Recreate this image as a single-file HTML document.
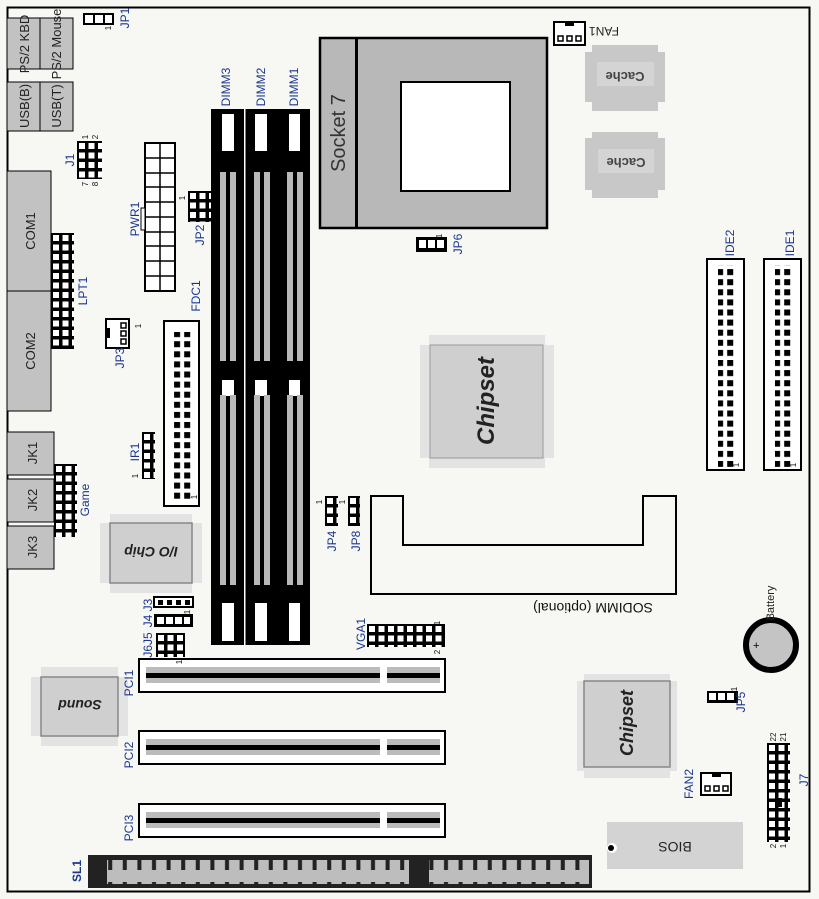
<!DOCTYPE html>
<html><head><meta charset="utf-8"><style>
html,body{margin:0;padding:0;background:#f7f8f4}
svg{display:block}
text{font-family:"Liberation Sans",sans-serif}
</style></head><body>
<svg width="819" height="899" viewBox="0 0 819 899" xmlns="http://www.w3.org/2000/svg">
<defs>
<pattern id="hdr9" width="9.5" height="9.5" patternUnits="userSpaceOnUse"><rect width="9.5" height="9.5" fill="#000"/><rect x="2" y="2" width="6" height="6" fill="#fff"/></pattern>
<pattern id="ide" width="10.1" height="10.1" patternUnits="userSpaceOnUse"><rect x="0" y="0" width="6" height="6" fill="#000"/></pattern>
<pattern id="sl" width="14.6" height="24" patternUnits="userSpaceOnUse"><rect width="14.6" height="24" fill="#bdbdbd"/><rect x="6" y="0" width="4" height="6" fill="#222"/><rect x="6" y="18" width="4" height="6" fill="#222"/></pattern>
</defs>
<rect x="0" y="0" width="819" height="899" fill="#f7f8f4"/>
<rect x="7.5" y="7.5" width="802" height="884" fill="none" stroke="#000" stroke-width="2"/>

<g fill="#c2c2c2" stroke="#000" stroke-width="1">
<rect x="7" y="18" width="33" height="51"/><rect x="40" y="18" width="33" height="51"/>
<rect x="7" y="82" width="33" height="49"/><rect x="40" y="82" width="33" height="49"/>
<rect x="7" y="171" width="44" height="120"/><rect x="7" y="291" width="44" height="120"/>
<rect x="7" y="432" width="47" height="43"/><rect x="7" y="479" width="47" height="43"/><rect x="7" y="526" width="47" height="43"/>
</g>
<g font-size="13" fill="#222" text-anchor="middle">
<text transform="translate(29,44) rotate(-90)">PS/2 KBD</text>
<text transform="translate(61,44) rotate(-90)">PS/2 Mouse</text>
<text transform="translate(29,106) rotate(-90)">USB(B)</text>
<text transform="translate(61,106) rotate(-90)">USB(T)</text>
<text transform="translate(35,231) rotate(-90)">COM1</text>
<text transform="translate(35,351) rotate(-90)">COM2</text>
<text transform="translate(37,453) rotate(-90)">JK1</text>
<text transform="translate(37,500) rotate(-90)">JK2</text>
<text transform="translate(37,547) rotate(-90)">JK3</text>
</g>

<g transform="translate(83,13)"><rect width="31" height="12" fill="#000"/><rect x="2" y="2" width="8" height="8" fill="#fff"/><rect x="12" y="2" width="8" height="8" fill="#fff"/><rect x="22" y="2" width="7" height="8" fill="#fff"/></g>
<g transform="translate(77,141)"><rect width="25" height="38" fill="url(#hdr9)"/></g>
<g transform="translate(51,233)"><rect width="23" height="116" fill="url(#hdr9)"/></g>
<g transform="translate(54,464)"><rect width="23" height="73" fill="url(#hdr9)"/></g>
<g transform="translate(188,191)"><rect width="23" height="31" fill="url(#hdr9)"/></g>
<g transform="translate(142,432)"><rect width="13" height="47" fill="url(#hdr9)"/></g>
<g transform="translate(367,624)"><rect width="78" height="23" fill="url(#hdr9)"/></g>
<g transform="translate(767,743)"><rect width="23" height="99" fill="url(#hdr9)"/><rect x="9" y="55" width="6" height="9" fill="#000"/></g>
<g transform="translate(325,496)"><rect width="13" height="30" fill="url(#hdr9)"/></g>
<g transform="translate(348,496)"><rect width="12" height="30" fill="url(#hdr9)"/></g>
<g transform="translate(416,237)"><rect width="31" height="15" fill="#000"/><rect x="3" y="3" width="7" height="8" fill="#fff"/><rect x="12" y="3" width="7" height="8" fill="#fff"/><rect x="21" y="3" width="7" height="8" fill="#fff"/></g>
<g transform="translate(707,691)"><rect width="31" height="12" fill="#000"/><rect x="2" y="2" width="7" height="7" fill="#fff"/><rect x="11" y="2" width="7" height="7" fill="#fff"/><rect x="20" y="2" width="7" height="7" fill="#fff"/></g>
<g transform="translate(154,597)"><rect width="39" height="10" fill="#fff" stroke="#000" stroke-width="2"/><rect x="4" y="3" width="5" height="5" fill="#000"/><rect x="13" y="3" width="5" height="5" fill="#000"/><rect x="22" y="3" width="5" height="5" fill="#000"/><rect x="31" y="3" width="5" height="5" fill="#000"/></g>
<g transform="translate(154,614)"><rect width="39" height="13" fill="#000"/><rect x="3" y="3" width="7" height="7" fill="#fff"/><rect x="12" y="3" width="7" height="7" fill="#fff"/><rect x="21" y="3" width="7" height="7" fill="#fff"/><rect x="30" y="3" width="6" height="7" fill="#fff"/></g>
<g transform="translate(156,633)"><rect width="29" height="24" fill="url(#hdr9)"/></g>

<g transform="translate(145,143)"><rect width="30" height="148" fill="#fff" stroke="#000" stroke-width="2"/>
<path d="M15 0V148M0 15H30M0 30H30M0 44H30M0 59H30M0 74H30M0 89H30M0 103H30M0 118H30M0 133H30" stroke="#000" stroke-width="1.5"/></g>
<rect x="141" y="208" width="4" height="22" fill="#fff" stroke="#000"/>

<g transform="translate(106,319)"><rect width="23" height="29" fill="#fff" stroke="#000" stroke-width="2"/><rect x="15" y="4" width="5" height="5" fill="none" stroke="#000" stroke-width="1.5"/><rect x="15" y="12" width="5" height="5" fill="none" stroke="#000" stroke-width="1.5"/><rect x="15" y="20" width="5" height="5" fill="none" stroke="#000" stroke-width="1.5"/><rect x="0" y="9" width="4" height="10" fill="#000"/></g>
<g transform="translate(554,22)"><rect width="31" height="23" fill="#fff" stroke="#000" stroke-width="2"/><rect x="11" y="0" width="9" height="4" fill="#000"/><rect x="4" y="14" width="5" height="5" fill="none" stroke="#000" stroke-width="1.5"/><rect x="13" y="14" width="5" height="5" fill="none" stroke="#000" stroke-width="1.5"/><rect x="22" y="14" width="5" height="5" fill="none" stroke="#000" stroke-width="1.5"/></g>
<g transform="translate(701,773)"><rect width="30" height="22" fill="#fff" stroke="#000" stroke-width="2"/><rect x="11" y="0" width="9" height="4" fill="#000"/><rect x="4" y="13" width="5" height="5" fill="none" stroke="#000" stroke-width="1.5"/><rect x="13" y="13" width="5" height="5" fill="none" stroke="#000" stroke-width="1.5"/><rect x="22" y="13" width="5" height="5" fill="none" stroke="#000" stroke-width="1.5"/></g>

<g transform="translate(164,321)"><rect width="35" height="185" fill="#fff" stroke="#000" stroke-width="2"/><rect x="9" y="11" width="20" height="170" fill="url(#ide)"/></g>
<g transform="translate(707,259)"><rect width="37" height="211" fill="#fff" stroke="#000" stroke-width="2"/><rect x="11" y="6" width="17" height="202" fill="url(#ide)"/></g>
<g transform="translate(764,259)"><rect width="37" height="211" fill="#fff" stroke="#000" stroke-width="2"/><rect x="11" y="6" width="17" height="202" fill="url(#ide)"/></g>

<rect x="211" y="109" width="99" height="536" fill="#000"/>
<rect x="244" y="109" width="1.5" height="536" fill="#fff"/>
<g fill="#fff"><rect x="222" y="114" width="12" height="37"/><rect x="255" y="114" width="12" height="37"/><rect x="289" y="114" width="11" height="37"/>
<rect x="222" y="380" width="12" height="16"/><rect x="255" y="380" width="12" height="16"/><rect x="289" y="380" width="11" height="16"/>
<rect x="222" y="603" width="12" height="38"/><rect x="255" y="603" width="12" height="38"/><rect x="289" y="603" width="11" height="38"/></g>
<g fill="#b8b8b8"><rect x="220" y="172" width="6" height="189"/><rect x="230" y="172" width="6" height="189"/><rect x="254" y="172" width="6" height="189"/><rect x="264" y="172" width="6" height="189"/><rect x="287" y="172" width="6" height="189"/><rect x="297" y="172" width="6" height="189"/>
<rect x="220" y="395" width="6" height="190"/><rect x="230" y="395" width="6" height="190"/><rect x="254" y="395" width="6" height="190"/><rect x="264" y="395" width="6" height="190"/><rect x="287" y="395" width="6" height="190"/><rect x="297" y="395" width="6" height="190"/></g>

<rect x="320" y="38" width="227" height="190" fill="#b8b8b8" stroke="#000" stroke-width="2.5"/>
<rect x="355" y="38" width="3" height="190" fill="#000"/>
<rect x="401" y="82" width="109" height="109" fill="#fff" stroke="#000" stroke-width="2"/>
<text transform="translate(345,133) rotate(-90)" text-anchor="middle" font-size="20" fill="#333">Socket 7</text>

<g><rect x="585" y="52" width="80" height="50" fill="#c8c8c8"/><rect x="592" y="45" width="66" height="66" fill="#c8c8c8"/><rect x="597" y="62" width="57" height="24" fill="#d4d4d4"/>
<text transform="translate(625,72) rotate(180)" text-anchor="middle" font-size="13" font-weight="bold" fill="#444">Cache</text></g>
<g><rect x="585" y="138" width="80" height="52" fill="#c8c8c8"/><rect x="592" y="132" width="66" height="66" fill="#c8c8c8"/><rect x="598" y="149" width="56" height="24" fill="#d4d4d4"/>
<text transform="translate(626,158) rotate(180)" text-anchor="middle" font-size="13" font-weight="bold" fill="#444">Cache</text></g>

<rect x="420" y="345" width="134" height="113" fill="#e3e3e3"/><rect x="429" y="335" width="116" height="133" fill="#e3e3e3"/>
<rect x="430" y="345" width="113" height="113" fill="#cfcfcf" stroke="#999"/>
<text transform="translate(494,401) rotate(-90)" text-anchor="middle" font-size="24" font-weight="bold" font-style="italic" fill="#222">Chipset</text>

<rect x="577" y="681" width="100" height="90" fill="#e3e3e3"/><rect x="584" y="674" width="86" height="104" fill="#e3e3e3"/>
<rect x="584" y="681" width="86" height="86" fill="#cfcfcf" stroke="#888" stroke-width="1.5"/>
<text transform="translate(633,723) rotate(-90)" text-anchor="middle" font-size="18" font-weight="bold" font-style="italic" fill="#222">Chipset</text>

<rect x="100" y="523" width="102" height="60" fill="#e3e3e3"/><rect x="110" y="514" width="82" height="79" fill="#e3e3e3"/>
<rect x="110" y="523" width="82" height="60" fill="#cfcfcf" stroke="#888" stroke-width="1.5"/>
<text transform="translate(151,547) rotate(180)" text-anchor="middle" font-size="14" font-weight="bold" font-style="italic" fill="#222">I/O Chip</text>

<rect x="31" y="677" width="97" height="59" fill="#e3e3e3"/><rect x="41" y="667" width="77" height="79" fill="#e3e3e3"/>
<rect x="41" y="677" width="77" height="59" fill="#cfcfcf" stroke="#888" stroke-width="1.5"/>
<text transform="translate(80,700) rotate(180)" text-anchor="middle" font-size="14" font-weight="bold" font-style="italic" fill="#222">Sound</text>

<path d="M371 496H403V545H643V496H676V594H371Z" fill="none" stroke="#000" stroke-width="2"/>
<text transform="translate(593,603) rotate(180)" text-anchor="middle" font-size="14" fill="#111">SODIMM (optional)</text>

<g id="pci"><rect x="139" y="659" width="306" height="33" fill="#fff" stroke="#000" stroke-width="2"/>
<rect x="146" y="667" width="234" height="16" fill="#bbb"/><rect x="146" y="673" width="234" height="5" fill="#000"/>
<rect x="387" y="667" width="53" height="16" fill="#bbb"/><rect x="387" y="673" width="53" height="5" fill="#000"/></g>
<use href="#pci" y="72"/><use href="#pci" y="145"/>

<rect x="88" y="855" width="504" height="33" fill="#222"/>
<rect x="107" y="860" width="302" height="24" fill="url(#sl)"/>
<rect x="429" y="860" width="160" height="24" fill="url(#sl)"/>

<circle cx="771" cy="645" r="25" fill="#c4c4c4" stroke="#000" stroke-width="6"/>
<text x="753" y="649" font-size="11" fill="#000">+</text>

<rect x="607" y="822" width="136" height="47" fill="#d3d3d3"/>
<circle cx="612" cy="848" r="5" fill="#fff"/><circle cx="611" cy="848" r="3" fill="#000"/>
<text transform="translate(675,842) rotate(180)" text-anchor="middle" font-size="14" fill="#222">BIOS</text>

<g font-size="12" fill="#1a3590" text-anchor="middle">
<text transform="translate(129,18) rotate(-90)">JP1</text>
<text transform="translate(74,160) rotate(-90)">J1</text>
<text transform="translate(87,291) rotate(-90)">LPT1</text>
<text transform="translate(139,219) rotate(-90)">PWR1</text>
<text transform="translate(204,235) rotate(-90)">JP2</text>
<text transform="translate(200,296) rotate(-90)">FDC1</text>
<text transform="translate(124,358) rotate(-90)">JP3</text>
<text transform="translate(139,452) rotate(-90)">IR1</text>
<text transform="translate(89,500) rotate(-90)">Game</text>
<text transform="translate(230,87) rotate(-90)">DIMM3</text>
<text transform="translate(265,87) rotate(-90)">DIMM2</text>
<text transform="translate(298,87) rotate(-90)">DIMM1</text>
<text transform="translate(152,605) rotate(-90)">J3</text>
<text transform="translate(152,621) rotate(-90)">J4</text>
<text transform="translate(152,645) rotate(-90)">J6J5</text>
<text transform="translate(133,683) rotate(-90)">PCI1</text>
<text transform="translate(133,755) rotate(-90)">PCI2</text>
<text transform="translate(133,828) rotate(-90)">PCI3</text>
<text transform="translate(81,871) rotate(-90)" font-weight="bold">SL1</text>
<text transform="translate(336,541) rotate(-90)">JP4</text>
<text transform="translate(360,541) rotate(-90)">JP8</text>
<text transform="translate(365,634) rotate(-90)">VGA1</text>
<text transform="translate(462,244) rotate(-90)">JP6</text>
<text transform="translate(734,243) rotate(-90)">IDE2</text>
<text transform="translate(794,243) rotate(-90)">IDE1</text>
<text transform="translate(693,784) rotate(-90)">FAN2</text>
<text transform="translate(808,780) rotate(-90)">J7</text>
<text transform="translate(745,702) rotate(-90)">JP5</text>
<text transform="translate(604,27) rotate(180)" fill="#222">FAN1</text>
<text transform="translate(774,603) rotate(-90)" fill="#222" font-size="11">Battery</text>
</g>
<g font-size="8" fill="#111" text-anchor="middle">
<text transform="translate(111,28) rotate(-90)">1</text>
<text transform="translate(88,137) rotate(-90)">1</text><text transform="translate(98,137) rotate(-90)">2</text>
<text transform="translate(88,184) rotate(-90)">7</text><text transform="translate(98,184) rotate(-90)">8</text>
<text transform="translate(185,198) rotate(-90)">1</text>
<text transform="translate(141,326) rotate(-90)">1</text>
<text transform="translate(138,476) rotate(-90)">1</text>
<text transform="translate(197,497) rotate(-90)">1</text>
<text transform="translate(190,612) rotate(-90)">1</text>
<text transform="translate(182,662) rotate(-90)">1</text>
<text transform="translate(322,502) rotate(-90)">1</text>
<text transform="translate(345,502) rotate(-90)">1</text>
<text transform="translate(440,623) rotate(-90)">1</text>
<text transform="translate(440,652) rotate(-90)">2</text>
<text transform="translate(442,236) rotate(-90)">1</text>
<text transform="translate(739,465) rotate(-90)">1</text>
<text transform="translate(796,465) rotate(-90)">1</text>
<text transform="translate(737,689) rotate(-90)">1</text>
<text transform="translate(776,737) rotate(-90)">22</text><text transform="translate(786,737) rotate(-90)">21</text>
<text transform="translate(776,846) rotate(-90)">2</text><text transform="translate(786,846) rotate(-90)">1</text>
</g>
</svg>
</body></html>
